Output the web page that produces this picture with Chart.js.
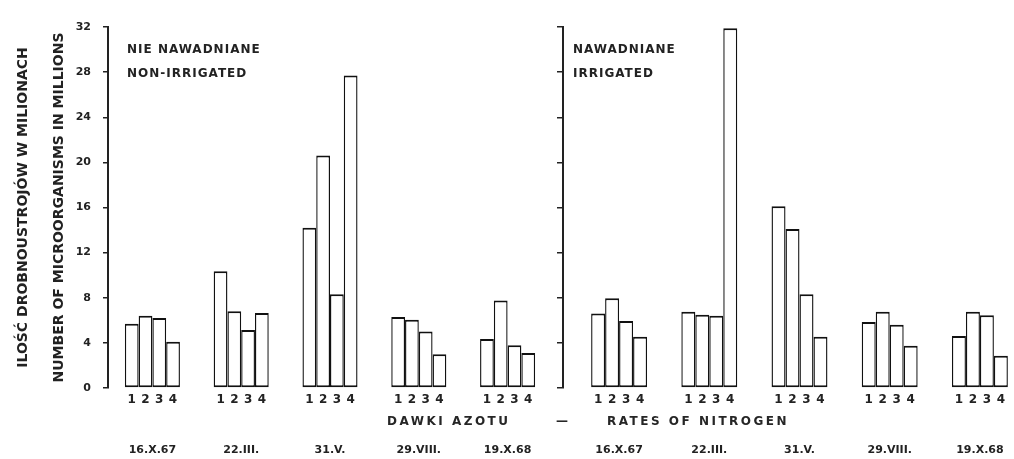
<!DOCTYPE html>
<html>
<head>
<meta charset="utf-8">
<script src="https://cdn.jsdelivr.net/npm/chart.js@4.4.0/dist/chart.umd.min.js"></script>
<style>
  html, body { margin: 0; padding: 0; background: #fff; overflow: hidden; }
  #wrap { position: relative; width: 1014px; height: 459px; overflow: hidden; }
  #left { position: absolute; left: 0; top: 0; }
  #right { position: absolute; left: 545px; top: 0; }
  .axis-name { position: absolute; top: 414px; font: bold 12px "DejaVu Sans"; letter-spacing: 2.5px; color: #262626; white-space: nowrap; }
</style>
</head>
<body>
<div id="wrap">
  <canvas id="left" width="560" height="459"></canvas>
  <canvas id="right" width="485" height="459"></canvas>
  <div class="axis-name" style="left:387px">DAWKI AZOTU</div>
  <div class="axis-name" style="left:556px">—</div>
  <div class="axis-name" style="left:607px">RATES OF NITROGEN</div>
</div>
<script>
const DATES = ["16.X.67", "22.III.", "31.V.", "29.VIII.", "19.X.68"];
const DOSES = ["1", "2", "3", "4"];

// nie nawadniane / non-irrigated, one array per nitrogen rate
const dry1 = [5.7, 10.35, 14.2, 6.3, 4.35];
const dry2 = [6.4, 6.8, 20.6, 6.05, 7.75];
const dry3 = [6.2, 5.15, 8.3, 5.0, 3.8];
const dry4 = [4.1, 6.65, 27.7, 3.0, 3.1];

// nawadniane / irrigated
const wet1 = [6.6, 6.75, 16.1, 5.85, 4.6];
const wet2 = [7.95, 6.5, 14.1, 6.75, 6.75];
const wet3 = [5.95, 6.4, 8.3, 5.6, 6.45];
const wet4 = [4.55, 31.9, 4.55, 3.75, 2.85];

const INK = "#222";
const BAR_INK = "#111";
const FONT = "DejaVu Sans";

function makeDatasets(series) {
  return series.map((values, i) => ({
    label: DOSES[i],
    data: values,
    backgroundColor: "#fff",
    borderColor: BAR_INK,
    // slupki stykaja sie - boki ciensze, zeby wspolna krawedz nie byla podwojna
    borderWidth: { top: 2, bottom: 2, left: 1.4, right: 1.4 },
    borderSkipped: false,
    inflateAmount: 0,
    categoryPercentage: 0.62,
    barPercentage: 1.0,
  }));
}

// numery dawek 1-4 pod kazdym slupkiem
const doseLabels = {
  id: "doseLabels",
  afterDatasetsDraw(chart) {
    const ctx = chart.ctx;
    const yBase = chart.scales.y.getPixelForValue(0);
    ctx.save();
    ctx.fillStyle = INK;
    ctx.font = "bold 12px " + FONT;
    ctx.textAlign = "center";
    ctx.textBaseline = "top";
    chart.data.datasets.forEach((ds, i) => {
      chart.getDatasetMeta(i).data.forEach((bar) => {
        ctx.fillText(ds.label, bar.x, yBase + 6);
      });
    });
    ctx.restore();
  },
};

// podpis panelu w lewym gornym rogu
const caption = {
  id: "caption",
  afterDraw(chart, args, opts) {
    const ctx = chart.ctx;
    const { left, top } = chart.chartArea;
    ctx.save();
    ctx.fillStyle = INK;
    ctx.font = "bold 12px " + FONT;
    ctx.letterSpacing = "1px";
    ctx.textBaseline = "middle";
    opts.lines.forEach((t, i) => ctx.fillText(t, left + opts.dx, top + 23 + i * 24));
    ctx.restore();
  },
};

const tickFont = { family: FONT, size: 11, weight: "bold" };

function xScale() {
  return {
    grid: { display: false, drawTicks: false },
    border: { display: false },
    ticks: { color: INK, font: tickFont, padding: 56, maxRotation: 0, autoSkip: false },
    afterFit: (s) => {
      // the big label padding is only meant downwards, not sideways
      s.height = 71;
      s.paddingLeft = 0;
      s.paddingRight = 0;
    },
  };
}

new Chart(document.getElementById("left"), {
  type: "bar",
  data: { labels: DATES, datasets: makeDatasets([dry1, dry2, dry3, dry4]) },
  plugins: [doseLabels, caption],
  options: {
    responsive: false,
    animation: false,
    layout: { padding: { top: 27, right: 8 } },
    plugins: {
      legend: { display: false },
      tooltip: { enabled: false },
      caption: { dx: 19, lines: ["NIE NAWADNIANE", "NON-IRRIGATED"] },
    },
    scales: {
      x: xScale(),
      y: {
        min: 0,
        max: 32,
        ticks: { stepSize: 4, color: INK, font: tickFont, padding: 12 },
        grid: { drawOnChartArea: false, tickLength: 5, color: INK, lineWidth: 1.5 },
        border: { color: INK, width: 2 },
        title: {
          display: true,
          text: ["ILOŚĆ DROBNOUSTROJÓW W MILIONACH", "NUMBER OF MICROORGANISMS IN MILLIONS"],
          color: INK,
          font: { family: FONT, size: 14, weight: "bold", lineHeight: 2.6 },
          padding: { top: 5, bottom: 0 },
        },
        afterFit: (s) => { s.width = 108; },
      },
    },
  },
});

new Chart(document.getElementById("right"), {
  type: "bar",
  data: { labels: DATES, datasets: makeDatasets([wet1, wet2, wet3, wet4]) },
  plugins: [doseLabels, caption],
  options: {
    responsive: false,
    animation: false,
    layout: { padding: { top: 27, left: 29, right: 5 } },
    plugins: {
      legend: { display: false },
      tooltip: { enabled: false },
      caption: { dx: -1, lines: ["NAWADNIANE", "IRRIGATED"] },
    },
    scales: {
      x: xScale(),
      y: {
        min: 0,
        max: 32,
        position: { x: -0.62 },
        ticks: { display: false, stepSize: 4 },
        grid: { drawOnChartArea: false, tickLength: 5, color: INK, lineWidth: 1.5 },
        border: { color: INK, width: 2 },
      },
    },
  },
});
</script>
</body>
</html>
